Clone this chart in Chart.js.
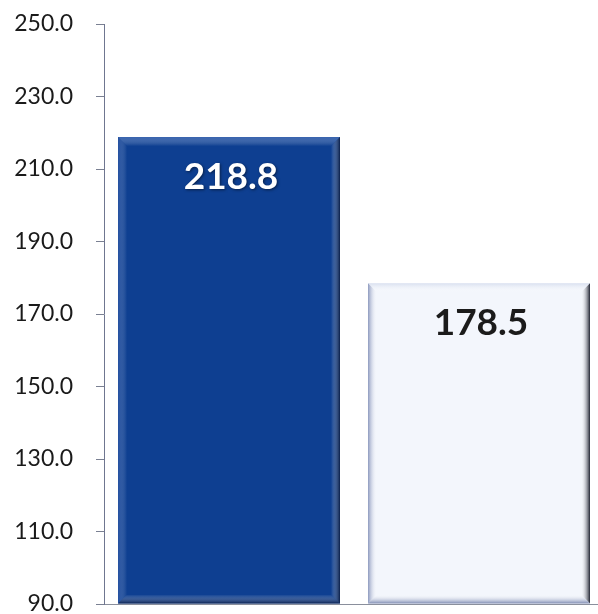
<!DOCTYPE html>
<html>
<head>
<meta charset="utf-8">
<script src="https://cdn.jsdelivr.net/npm/chart.js@4/dist/chart.umd.min.js"></script>
<style>
  html, body { margin: 0; padding: 0; background: #ffffff; overflow: hidden; }
  #wrap { width: 604px; height: 614px; }
</style>
</head>
<body>
<div id="wrap"><canvas id="c" width="604" height="614"></canvas></div>
<script>
// Chart data
const categories = ['', ''];
const values = [218.8, 178.5];
const yMin = 90;
const yMax = 250;
const yStep = 20;

// Bar fills and bevel shading per bar
const fills = ['#0e3f91', '#f3f6fc'];
const bevels = [
  { top: 'rgba(90,130,200,0.55)', left: 'rgba(60,100,180,0.45)', right: 'rgba(5,20,55,0.8)', bottom: 'rgba(5,20,60,0.75)' },
  { top: 'rgba(210,218,236,0.8)', left: 'rgba(115,130,175,0.8)', right: 'rgba(20,24,38,0.95)', bottom: 'rgba(105,120,165,0.85)' }
];
const labelColors = ['#ffffff', '#1b1b1b'];

// Beveled edges drawn over each bar
const bevelPlugin = {
  id: 'bevel',
  afterDatasetsDraw(chart) {
    const ctx = chart.ctx;
    const area = chart.chartArea;
    const meta = chart.getDatasetMeta(0);
    meta.data.forEach((bar, i) => {
      const l = bar.x - bar.width / 2, r = bar.x + bar.width / 2;
      const t = bar.y, b = Math.min(bar.base, area.bottom);
      const s = 9;
      const cfg = bevels[i];
      ctx.save();
      // top
      let g = ctx.createLinearGradient(0, t, 0, t + s);
      g.addColorStop(0, cfg.top); g.addColorStop(1, 'rgba(255,255,255,0)');
      ctx.fillStyle = g;
      ctx.beginPath(); ctx.moveTo(l, t); ctx.lineTo(r, t); ctx.lineTo(r - s, t + s); ctx.lineTo(l + s, t + s); ctx.closePath(); ctx.fill();
      // left
      g = ctx.createLinearGradient(l, 0, l + s, 0);
      g.addColorStop(0, cfg.left); g.addColorStop(1, 'rgba(255,255,255,0)');
      ctx.fillStyle = g;
      ctx.beginPath(); ctx.moveTo(l, t); ctx.lineTo(l + s, t + s); ctx.lineTo(l + s, b - s); ctx.lineTo(l, b); ctx.closePath(); ctx.fill();
      // right
      g = ctx.createLinearGradient(r, 0, r - s, 0);
      g.addColorStop(0, cfg.right); g.addColorStop(1, 'rgba(255,255,255,0)');
      ctx.fillStyle = g;
      ctx.beginPath(); ctx.moveTo(r, t); ctx.lineTo(r - s, t + s); ctx.lineTo(r - s, b - s); ctx.lineTo(r, b); ctx.closePath(); ctx.fill();
      // bottom
      g = ctx.createLinearGradient(0, b, 0, b - s);
      g.addColorStop(0, cfg.bottom); g.addColorStop(1, 'rgba(255,255,255,0)');
      ctx.fillStyle = g;
      ctx.beginPath(); ctx.moveTo(l, b); ctx.lineTo(l + s, b - s); ctx.lineTo(r - s, b - s); ctx.lineTo(r, b); ctx.closePath(); ctx.fill();
      ctx.restore();
    });
  }
};

// Value labels placed inside the top of each bar
const valueLabelPlugin = {
  id: 'valueLabels',
  afterDatasetsDraw(chart) {
    const ctx = chart.ctx;
    const meta = chart.getDatasetMeta(0);
    ctx.save();
    ctx.font = 'bold 37px Lato, "Open Sans", sans-serif';
    ctx.textAlign = 'center';
    ctx.textBaseline = 'middle';
    meta.data.forEach((bar, i) => {
      const v = chart.data.datasets[0].data[i];
      if (i === 0) {
        ctx.shadowColor = 'rgba(0,0,0,0.5)';
        ctx.shadowBlur = 3;
        ctx.shadowOffsetX = 1;
        ctx.shadowOffsetY = 1;
      } else {
        ctx.shadowColor = 'transparent';
      }
      ctx.fillStyle = labelColors[i];
      ctx.fillText(v.toFixed(1), bar.x + 2, bar.y + 40);
    });
    ctx.restore();
  }
};

new Chart(document.getElementById('c'), {
  type: 'bar',
  data: {
    labels: categories,
    datasets: [{
      data: values,
      base: yMin,
      backgroundColor: fills,
      borderWidth: 0,
      barPercentage: 0.888,
      categoryPercentage: 1.0
    }]
  },
  options: {
    responsive: false,
    animation: false,
    layout: { padding: { top: 24, bottom: 10, left: 0, right: 0 } },
    plugins: { legend: { display: false }, tooltip: { enabled: false } },
    scales: {
      x: {
        ticks: { display: false },
        grid: { display: false, drawTicks: false },
        border: { display: true, color: '#8a8f9c', width: 1 }
      },
      y: {
        min: yMin,
        max: yMax,
        ticks: {
          stepSize: yStep,
          padding: 23,
          color: '#1a1a1a',
          font: { family: 'Lato, "Open Sans", sans-serif', size: 23 },
          callback: v => v.toFixed(1)
        },
        grid: { drawOnChartArea: false, drawTicks: true, tickLength: 8, color: '#7a8092' },
        border: { display: true, color: '#6f7690', width: 1 },
        afterFit(scale) {
          scale.width = 104;
          scale.paddingTop = 0;
          scale.paddingBottom = 0;
        }
      }
    }
  },
  plugins: [bevelPlugin, valueLabelPlugin]
});
</script>
</body>
</html>
